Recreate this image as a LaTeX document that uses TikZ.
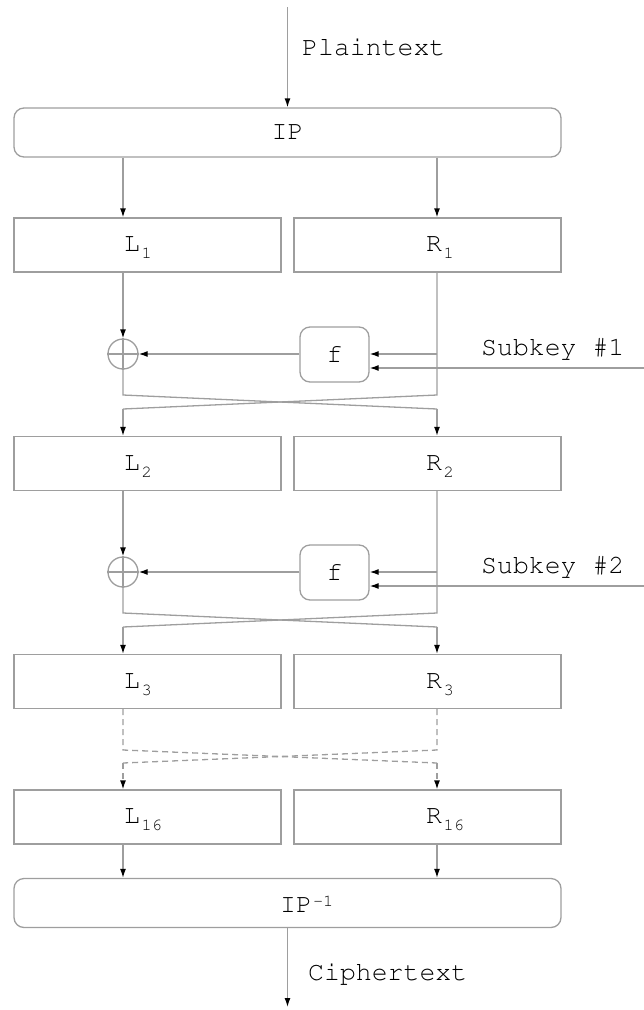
\documentclass[tikz,border=0pt]{standalone}
\usepackage[T1]{fontenc}
\usepackage{courier}
\usetikzlibrary{arrows.meta}
\definecolor{ln}{gray}{0.62}
\newcommand\mysub[2]{#1\kern1.5pt\raisebox{-7pt}{\fontsize{17}{17}\selectfont #2}}
\newcommand\mysup[2]{#1\kern1pt\raisebox{6pt}{\fontsize{17}{17}\selectfont #2}}
\tikzset{
  wire/.style={draw=ln, line width=1.3pt},
  arr/.style={wire, -{Latex[length=9pt,width=6pt,color=black]}},
  dwire/.style={wire, dash pattern=on 6pt off 4pt},
  darr/.style={arr, dash pattern=on 6pt off 4pt},
  blk/.style={draw=ln, line width=1.3pt, rectangle, inner sep=0pt, minimum width=267pt, minimum height=54pt},
  wide/.style={draw=ln, line width=1.3pt, rectangle, rounded corners=10pt, inner sep=0pt, minimum width=547pt, minimum height=49pt,
     font=\fontsize{26.5}{30}\selectfont\ttfamily},
  fbox/.style={draw=ln, line width=1.3pt, rectangle, rounded corners=10pt, inner sep=0pt, minimum width=69pt, minimum height=55pt,
     font=\fontsize{26.5}{30}\selectfont\ttfamily},
  xorc/.style={draw=ln, line width=1.3pt, circle, inner sep=0pt, minimum size=30pt},
  txt/.style={inner sep=0pt, anchor=base west, font=\fontsize{26.5}{30}\selectfont\ttfamily},
}
\begin{document}
\begin{tikzpicture}[x=1pt,y=-1pt]
\useasboundingbox (0,0) rectangle (644,1010);
\coordinate (lx) at (123,0);
\coordinate (rx) at (437,0);

% top
\coordinate (in) at (287.5,7);
\node[wide] (IP) at (287.5,132.5) {IP};
\draw[arr] (in) -- (IP.north);
\node[txt] (pt) at (302,55) {Plaintext};

% boxes
\node[blk] (L1) at (147.5,245) {};
\node[blk] (R1) at (427.5,245) {};
\node[blk] (L2) at (147.5,463.5) {};
\node[blk] (R2) at (427.5,463.5) {};
\node[blk] (L3) at (147.5,681.5) {};
\node[blk] (R3) at (427.5,681.5) {};
\node[blk] (L16) at (147.5,817) {};
\node[blk] (R16) at (427.5,817) {};

\node[txt] (tL1) at (124,251.7) {\mysub{L}{1}};
\node[txt] (tR1) at (426,251.7) {\mysub{R}{1}};
\node[txt] (tL2) at (124,470.2) {\mysub{L}{2}};
\node[txt] (tR2) at (426,470.2) {\mysub{R}{2}};
\node[txt] (tL3) at (124,688.2) {\mysub{L}{3}};
\node[txt] (tR3) at (426,688.2) {\mysub{R}{3}};
\node[txt] (tL16) at (124,823.7) {\mysub{L}{16}};
\node[txt] (tR16) at (426,823.7) {\mysub{R}{16}};

\draw[arr] (lx |- IP.south) -- (lx |- L1.north);
\draw[arr] (rx |- IP.south) -- (rx |- R1.north);

% round 1
\node[xorc] (x1) at (123,354) {};
\draw[wire] (x1.north) -- (x1.south) (x1.west) -- (x1.east);
\node[fbox] (f1) at (334.5,354.5) {f};
\draw[arr] (lx |- L1.south) -- (x1.north);
\draw[arr] (f1.west |- x1) -- (x1.east);
\draw[arr] (rx |- x1) -- (f1.east |- x1);
\coordinate (k1) at (644,368);
\draw[arr] (k1) -- (f1.east |- k1);
\node[txt] (s1) at (481,355) {Subkey \#1};
\coordinate (a1) at (123,395);
\coordinate (b1) at (437,395);
\coordinate (c1) at (123,409);
\coordinate (d1) at (437,409);
\draw[wire] (x1.south) -- (a1) -- (d1);
\draw[arr] (d1) -- (rx |- R2.north);
\draw[wire] (rx |- R1.south) -- (b1) -- (c1);
\draw[arr] (c1) -- (lx |- L2.north);

% round 2
\node[xorc] (x2) at (123,572) {};
\draw[wire] (x2.north) -- (x2.south) (x2.west) -- (x2.east);
\node[fbox] (f2) at (334.5,572.5) {f};
\draw[arr] (lx |- L2.south) -- (x2.north);
\draw[arr] (f2.west |- x2) -- (x2.east);
\draw[arr] (rx |- x2) -- (f2.east |- x2);
\coordinate (k2) at (644,586);
\draw[arr] (k2) -- (f2.east |- k2);
\node[txt] (s2) at (481,573) {Subkey \#2};
\coordinate (a2) at (123,613);
\coordinate (b2) at (437,613);
\coordinate (c2) at (123,627);
\coordinate (d2) at (437,627);
\draw[wire] (x2.south) -- (a2) -- (d2);
\draw[arr] (d2) -- (rx |- R3.north);
\draw[wire] (rx |- R2.south) -- (b2) -- (c2);
\draw[arr] (c2) -- (lx |- L3.north);

% dashed rounds
\coordinate (a3) at (123,750);
\coordinate (b3) at (437,750);
\coordinate (c3) at (123,763);
\coordinate (d3) at (437,763);
\draw[dwire] (lx |- L3.south) -- (a3) -- (d3);
\draw[darr] (d3) -- (rx |- R16.north);
\draw[dwire] (rx |- R3.south) -- (b3) -- (c3);
\draw[darr] (c3) -- (lx |- L16.north);

% output
\node[wide] (IPi) at (287.5,903) {};
\node[txt] (tIPi) at (280,912) {\mysup{IP}{-1}};
\draw[arr] (lx |- L16.south) -- (lx |- IPi.north);
\draw[arr] (rx |- R16.south) -- (rx |- IPi.north);
\coordinate (out) at (287.5,1007);
\draw[arr] (IPi.south) -- (out);
\node[txt] (ct) at (308,980.7) {Ciphertext};
\end{tikzpicture}
\end{document}
